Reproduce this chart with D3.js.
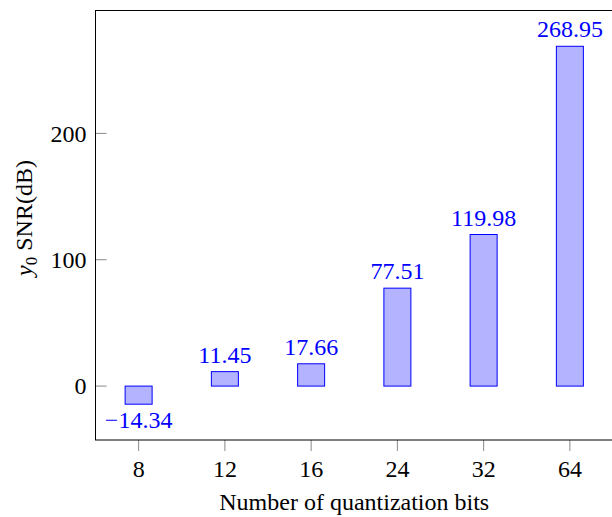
<!DOCTYPE html>
<html>
<head>
<meta charset="utf-8">
<script src="https://cdn.jsdelivr.net/npm/d3@7"></script>
<style>
  html, body { margin: 0; padding: 0; background: #fff; }
  svg text { font-family: "Liberation Serif", "DejaVu Serif", serif; }
</style>
</head>
<body>
<div id="chart"></div>
<script>
const CATEGORIES = ["8", "12", "16", "24", "32", "64"];
const VALUES = [-14.34, 11.45, 17.66, 77.51, 119.98, 268.95];
const Y_TICKS = [0, 100, 200];

const width = 612;
const height = 517;
const margin = { top: 10.5, right: -1, bottom: 77, left: 95.5 };
const innerWidth = width - margin.left - margin.right;
const innerHeight = height - margin.top - margin.bottom;

const svg = d3.select("#chart")
  .append("svg")
  .attr("width", width)
  .attr("height", height);

const g = svg.append("g").attr("transform", `translate(${margin.left},${margin.top})`);

// enlarged limits like pgfplots (10% of data range)
const lo = d3.min(VALUES), hi = d3.max(VALUES);
const pad = (hi - lo) * 0.1;
const y = d3.scaleLinear().domain([lo - pad, hi + pad]).range([innerHeight, 0]);

const x = d3.scaleBand().domain(CATEGORIES).range([0, innerWidth]).padding(0);
const barW = 27;

// bars
g.selectAll("rect.bar")
  .data(VALUES)
  .join("rect")
  .attr("class", "bar")
  .attr("x", (d, i) => x(CATEGORIES[i]) + x.bandwidth() / 2 - barW / 2)
  .attr("y", (d) => y(Math.max(0, d)))
  .attr("width", barW)
  .attr("height", (d) => Math.abs(y(d) - y(0)))
  .attr("fill", "#b3b3ff")
  .attr("stroke", "#0000ff")
  .attr("stroke-width", 1);

// value labels
g.selectAll("text.val")
  .data(VALUES)
  .join("text")
  .attr("class", "val")
  .attr("x", (d, i) => x(CATEGORIES[i]) + x.bandwidth() / 2)
  .attr("y", (d) => d >= 0 ? y(d) - 9 : y(d) + 24)
  .attr("text-anchor", "middle")
  .attr("fill", "#0000ff")
  .style("font-size", "24px")
  .text((d) => d < 0 ? "\u2212" + Math.abs(d).toFixed(2) : d.toFixed(2));

// y ticks (inward)
const yAxis = g.append("g");
yAxis.selectAll("line")
  .data(Y_TICKS)
  .join("line")
  .attr("x1", 0).attr("x2", 11)
  .attr("y1", (d) => y(d)).attr("y2", (d) => y(d))
  .attr("stroke", "#888").attr("stroke-width", 1);
yAxis.selectAll("text")
  .data(Y_TICKS)
  .join("text")
  .attr("x", -9)
  .attr("y", (d) => y(d))
  .attr("dy", "0.35em")
  .attr("text-anchor", "end")
  .style("font-size", "24px")
  .text((d) => d);

// x ticks (outward)
const xAxis = g.append("g").attr("transform", `translate(0,${innerHeight})`);
xAxis.selectAll("line")
  .data(CATEGORIES)
  .join("line")
  .attr("x1", (d) => x(d) + x.bandwidth() / 2)
  .attr("x2", (d) => x(d) + x.bandwidth() / 2)
  .attr("y1", 0).attr("y2", 11)
  .attr("stroke", "#888").attr("stroke-width", 1);
xAxis.selectAll("text")
  .data(CATEGORIES)
  .join("text")
  .attr("x", (d) => x(d) + x.bandwidth() / 2)
  .attr("y", 37)
  .attr("text-anchor", "middle")
  .style("font-size", "24px")
  .text((d) => d);

// frame
g.append("rect")
  .attr("x", 0).attr("y", 0)
  .attr("width", innerWidth).attr("height", innerHeight)
  .attr("fill", "none")
  .attr("stroke", "#000")
  .attr("stroke-width", 1);

// axis labels
g.append("text")
  .attr("x", innerWidth / 2)
  .attr("y", innerHeight + 69.5)
  .attr("text-anchor", "middle")
  .style("font-size", "24px")
  .text("Number of quantization bits");

const yl = svg.append("text")
  .attr("transform", `translate(32,218) rotate(-90)`)
  .attr("text-anchor", "middle")
  .style("font-size", "24px");
yl.append("tspan").style("font-style", "italic").text("y");
yl.append("tspan").attr("dy", 5).style("font-size", "17px").text("0");
yl.append("tspan").attr("dy", -5).text(" SNR(dB)");
</script>
</body>
</html>
